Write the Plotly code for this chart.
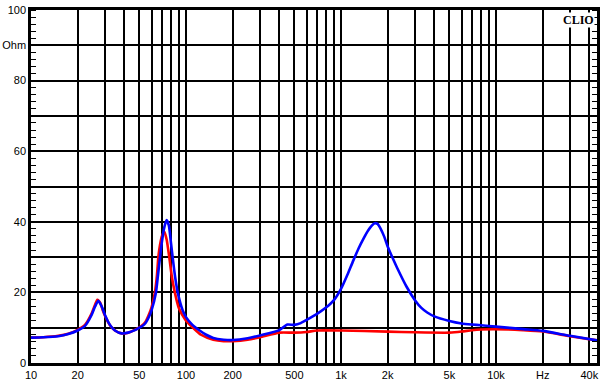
import plotly.graph_objects as go

# Frequencies (Hz) and impedance (Ohm)
freq_red = [10, 12, 15, 17.4, 20, 22.3, 24.6, 25.9, 26.8, 28, 29, 30, 32.3, 34.8, 38.4, 42.4, 46.8,
            50, 52, 55, 58, 60, 63, 65, 66.3, 68, 70, 72.5, 75, 78, 81, 84.7, 90, 100, 111, 125,
            150, 175, 200, 250, 300, 400, 500, 600, 700, 1000, 2000, 3000, 5000, 6000, 7000,
            8000, 12000, 15000, 20000, 30000, 45000]
imp_red = [7.2, 7.3, 7.7, 8.3, 9.4, 10.8, 14.0, 16.5, 17.9, 17.0, 15.0, 13.4, 10.7, 9.2, 8.4, 8.6, 9.4,
           10.1, 10.6, 11.8, 14.0, 15.8, 20.0, 25.0, 30.0, 33.5, 36.0, 37.2, 35.0, 30.0, 24.5, 20.0,
           15.5, 12.0, 10.0, 8.0, 6.6, 6.2, 6.2, 6.6, 7.3, 8.6, 8.6, 8.8, 9.2, 9.2, 8.9, 8.7, 8.6,
           8.9, 9.3, 9.5, 9.5, 9.3, 8.9, 7.6, 6.4]

freq_blue = [10, 12, 15, 17.4, 20, 22.3, 24.6, 25.9, 27.2, 28.6, 30, 32.3, 34.8, 38.4, 42.4, 46.8,
             50, 52, 55, 58, 60, 64, 66, 68, 70, 72.5, 75, 77.5, 80, 82, 85, 88.4, 95, 100, 110,
             120, 135, 150, 175, 200, 250, 300, 400, 450, 500, 550, 600, 700, 800, 900, 1000, 1100,
             1200, 1300, 1400, 1500, 1580, 1650, 1720, 1800, 1900, 2000, 2150, 2300, 2650, 3000,
             3300, 3600, 4000, 5000, 6000, 7000, 8000, 10000, 15000, 20000, 30000, 45000]
imp_blue = [7.2, 7.3, 7.6, 8.2, 9.2, 10.5, 13.6, 16.0, 17.6, 16.0, 13.6, 10.8, 9.2, 8.4, 8.6, 9.3,
            10.0, 10.4, 11.4, 13.3, 15.0, 20.0, 25.0, 30.0, 34.5, 38.5, 40.5, 39.0, 34.0, 30.0, 24.5,
            20.0, 15.0, 13.0, 10.8, 9.5, 8.0, 7.1, 6.6, 6.5, 7.0, 7.8, 9.3, 10.9, 10.8, 11.3, 12.2,
            13.9, 15.7, 17.8, 21.0, 25.0, 29.0, 32.5, 35.3, 37.6, 38.9, 39.6, 39.4, 38.1, 35.8, 33.0,
            29.8, 27.0, 21.6, 17.8, 15.6, 14.3, 13.2, 11.9, 11.2, 10.9, 10.7, 10.3, 9.6, 9.1, 7.7, 6.4]

x_grid = [10, 20, 30, 40, 50, 60, 70, 80, 90,
          100, 200, 300, 400, 500, 600, 700, 800, 900,
          1000, 2000, 3000, 4000, 5000, 6000, 7000, 8000, 9000,
          10000, 20000, 30000, 40000]
x_label_map = {10: "10", 20: "20", 50: "50", 100: "100", 200: "200", 500: "500",
               1000: "1k", 2000: "2k", 5000: "5k", 10000: "10k", 20000: "Hz", 40000: "40k"}
x_text = [x_label_map.get(v, "") for v in x_grid]

y_grid = [0, 10, 20, 30, 40, 50, 60, 70, 80, 90, 100]
y_label_map = {0: "0", 20: "20", 40: "40", 60: "60", 80: "80", 90: "Ohm", 100: "100"}
y_text = [y_label_map.get(v, "") for v in y_grid]

fig = go.Figure()
fig.add_trace(go.Scatter(x=freq_red, y=imp_red, mode="lines",
                         line=dict(color="#ff0000", width=2.6, shape="spline", smoothing=0.6),
                         hoverinfo="skip", showlegend=False))
fig.add_trace(go.Scatter(x=freq_blue, y=imp_blue, mode="lines",
                         line=dict(color="#0000ff", width=2.6, shape="spline", smoothing=0.6),
                         hoverinfo="skip", showlegend=False))
# invisible trace on the right axis so its minor ticks are drawn
fig.add_trace(go.Scatter(x=[freq_blue[0]], y=[imp_blue[0]], yaxis="y2", mode="lines",
                         line=dict(width=0), hoverinfo="skip", showlegend=False))

fig.update_layout(
    width=602, height=389,
    margin=dict(l=31, r=5, t=10, b=26),
    paper_bgcolor="white", plot_bgcolor="white",
    font=dict(family="Liberation Sans, Arial, sans-serif", size=11, color="black"),
    xaxis=dict(type="log", range=[1, 1 + 566 / 155], automargin=False,
               tickvals=x_grid, ticktext=x_text, ticks="",
               showgrid=True, gridcolor="black", gridwidth=1.5,
               showline=True, linecolor="black", linewidth=2.5, mirror=True,
               zeroline=False, tickfont=dict(size=11)),
    yaxis=dict(range=[0, 100], tickvals=y_grid, ticktext=y_text, ticks="", automargin=False,
               showgrid=True, gridcolor="black", gridwidth=1.5,
               showline=True, linecolor="black", linewidth=2.5, mirror=True,
               zeroline=False, tickfont=dict(size=11),
               minor=dict(dtick=2, ticks="inside", ticklen=5, tickcolor="black",
                          tickwidth=1, showgrid=False)),
    yaxis2=dict(range=[0, 100], overlaying="y", side="right", automargin=False,
                showgrid=False, zeroline=False, showticklabels=False, ticks="",
                tickvals=y_grid, showline=False,
                minor=dict(dtick=2, ticks="inside", ticklen=5, tickcolor="black",
                           tickwidth=1, showgrid=False)),
    annotations=[dict(text="<b>CLIO</b>", xref="paper", yref="paper", x=0.997, y=0.995,
                      xanchor="right", yanchor="top", showarrow=False,
                      bgcolor="white", borderpad=0,
                      font=dict(family="Liberation Serif, Times New Roman, serif", size=12,
                                color="black"))],
)

fig.write_html("out.html", config={"displayModeBar": False},
               post_script="document.body.style.margin='0';")
